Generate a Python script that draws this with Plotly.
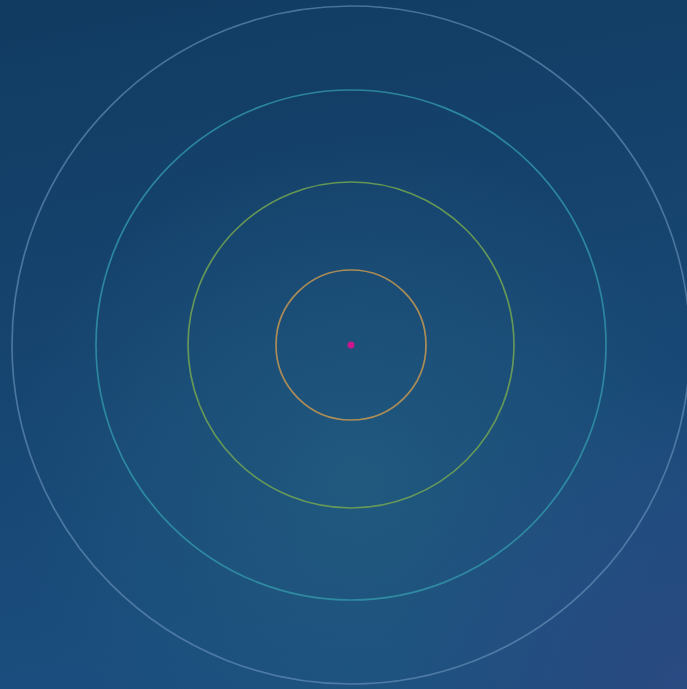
import base64
import plotly.graph_objects as go

# Ring data (radius in plot units) and colours
ring_names = ["inner", "mid", "outer", "outermost"]
ring_radii = [75, 163, 255, 339]
ring_colors = ["rgba(196,150,80,0.85)", "rgba(120,170,80,0.8)", "rgba(50,150,170,0.8)", "rgba(110,150,190,0.6)"]
center_x = [0]
center_y = [0]

W, H = 687, 689

svg = f'''<svg xmlns="http://www.w3.org/2000/svg" width="{W}" height="{H}">
<defs>
<linearGradient id="lg" x1="0.1" y1="0" x2="0.3" y2="1">
<stop offset="0" stop-color="#113b61"/>
<stop offset="1" stop-color="#1b4e7f"/>
</linearGradient>
<radialGradient id="rg" cx="0.52" cy="0.7" r="0.5">
<stop offset="0" stop-color="#215a7f" stop-opacity="0.9"/>
<stop offset="1" stop-color="#215a7f" stop-opacity="0"/>
</radialGradient>
<radialGradient id="cg" cx="1" cy="1" r="0.45">
<stop offset="0" stop-color="#2a4a82" stop-opacity="1"/>
<stop offset="1" stop-color="#2a4a82" stop-opacity="0"/>
</radialGradient>
</defs>
<rect width="{W}" height="{H}" fill="url(#lg)"/>
<rect width="{W}" height="{H}" fill="url(#rg)"/>
<rect width="{W}" height="{H}" fill="url(#cg)"/>
</svg>'''
src = "data:image/svg+xml;base64," + base64.b64encode(svg.encode()).decode()

fig = go.Figure()
shapes = []
for r, c in zip(ring_radii, ring_colors):
    shapes.append(dict(type="circle", xref="x", yref="y",
                       x0=center_x[0] - r, x1=center_x[0] + r,
                       y0=center_y[0] - r, y1=center_y[0] + r,
                       line=dict(color=c, width=1.7)))

fig.add_trace(go.Scatter(x=center_x, y=center_y, mode="markers",
                         marker=dict(color="#c8188c", size=7), hoverinfo="skip",
                         showlegend=False))

fig.update_layout(
    width=W, height=H,
    margin=dict(l=0, r=0, t=0, b=0),
    paper_bgcolor="#133f66", plot_bgcolor="rgba(0,0,0,0)",
    shapes=shapes,
    images=[dict(source=src, xref="paper", yref="paper", x=0, y=1,
                 sizex=1, sizey=1, sizing="stretch", layer="below",
                 xanchor="left", yanchor="top")],
    xaxis=dict(range=[-351, 336], visible=False, fixedrange=True),
    yaxis=dict(range=[-344, 345], visible=False, fixedrange=True),
    showlegend=False,
)
fig.write_html("out.html", config={"displayModeBar": False})

with open("out.html", "r", encoding="utf-8") as f:
    html = f.read()
html = html.replace("<head>", "<head><style>html,body{margin:0;padding:0;overflow:hidden;background:#133f66;}</style>", 1)
with open("out.html", "w", encoding="utf-8") as f:
    f.write(html)
